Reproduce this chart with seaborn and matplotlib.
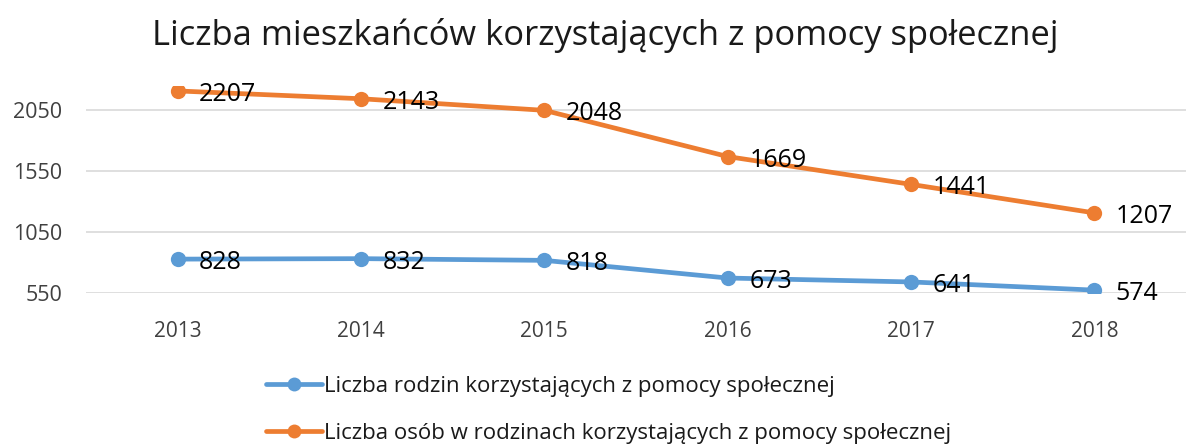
import pandas as pd
import matplotlib.pyplot as plt
import seaborn as sns

# dane z wykresu
lata = ["2013", "2014", "2015", "2016", "2017", "2018"]
rodziny = [828, 832, 818, 673, 641, 574]
osoby = [2207, 2143, 2048, 1669, 1441, 1207]
seria_rodziny = "Liczba rodzin korzystających z pomocy społecznej"
seria_osoby = "Liczba osób w rodzinach korzystających z pomocy społecznej"
yticks = [550, 1050, 1550, 2050]

df = pd.DataFrame({
    "rok": lata * 2,
    "wartosc": rodziny + osoby,
    "seria": [seria_rodziny] * len(lata) + [seria_osoby] * len(lata),
})

sns.set_style("white")
plt.rcParams["font.family"] = ["Open Sans", "DejaVu Sans"]

fig = plt.figure(figsize=(11.86, 4.44), dpi=100)
ax = fig.add_axes([0.0725, 0.34, 0.9275, 0.467])

kolory = {seria_rodziny: "#5B9BD5", seria_osoby: "#ED7D31"}
sns.lineplot(data=df, x="rok", y="wartosc", hue="seria", palette=kolory,
             marker="o", markersize=11, markeredgewidth=0, linewidth=3.4,
             sort=False, ax=ax)

# etykiety danych
for seria, wartosci in [(seria_rodziny, rodziny), (seria_osoby, osoby)]:
    for i, v in enumerate(wartosci):
        ax.annotate(str(v), (i, v), xytext=(15.5, -2.5), textcoords="offset points",
                    ha="left", va="center", fontsize=18, color="black")

ax.set_xlim(-0.5, 5.5)
ax.set_ylim(550, 2250)
ax.set_yticks(yticks)
ax.yaxis.grid(True, color="#D9D9D9", linewidth=1.2)
ax.set_axisbelow(True)
for s in ax.spines.values():
    s.set_visible(False)
ax.set_xlabel("")
ax.set_ylabel("")
ax.tick_params(axis="both", colors="#404040", length=0)
ax.tick_params(axis="x", labelsize=15, pad=20)
ax.tick_params(axis="y", labelsize=15.5, pad=17)

fig.suptitle("Liczba mieszkańców korzystających z pomocy społecznej",
             fontsize=24.8, color="#1a1a1a", x=0.51, y=0.96)

handles, labels = ax.get_legend_handles_labels()
ax.get_legend().remove()
for h in handles:
    h.set_markersize(10)
fig.legend(handles, labels, loc="lower left", bbox_to_anchor=(0.215, -0.025),
           frameon=False, fontsize=16, handlelength=2.5, handletextpad=0.1,
           labelspacing=1.17, borderpad=0, labelcolor="#1a1a1a")

fig.savefig("out.png", dpi=100)
